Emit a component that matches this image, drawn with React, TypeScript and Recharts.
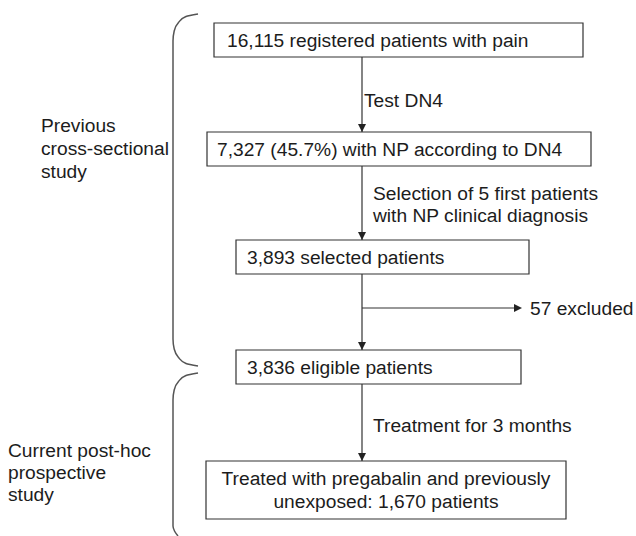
import React from "react";
import {
  ComposedChart,
  XAxis,
  YAxis,
  ReferenceArea,
  ReferenceLine,
  Scatter,
  Line,
} from "recharts";

// ---- content (texts) ----
const boxLines: string[][] = [
  ["16,115 registered patients with pain"],
  ["7,327 (45.7%) with NP according to DN4"],
  ["3,893 selected patients"],
  ["3,836 eligible patients"],
  ["Treated with pregabalin and previously", "unexposed: 1,670 patients"],
];
const stepLabels: string[][] = [
  ["Test DN4"],
  ["Selection of 5 first patients", "with NP clinical diagnosis"],
  ["Treatment for 3 months"],
];
const exclusionLabel = "57 excluded";
const phaseLabels: string[][] = [
  ["Previous", "cross-sectional", "study"],
  ["Current post-hoc", "prospective", "study"],
];

// ---- layout (pixel coordinates on a 636 x 536 canvas) ----
const W = 636;
const H = 536;
const LINE_H = 22.5;
const FLOW_X = 362;
const FONT_SIZE = 19.2;
const boxRects = [
  { x1: 214, x2: 583, y1: 23, y2: 57, align: "start", pad: 13 },
  { x1: 207, x2: 591, y1: 132, y2: 166, align: "start", pad: 10 },
  { x1: 236, x2: 529, y1: 240, y2: 274, align: "start", pad: 11 },
  { x1: 236, x2: 521, y1: 350, y2: 384, align: "start", pad: 11 },
  { x1: 206, x2: 566, y1: 461, y2: 519, align: "middle", pad: 0 },
];
const stepPos = [
  { x: 364, cy: 100 },
  { x: 373, cy: 204.5 },
  { x: 373, cy: 425 },
];
const branchY = 308;
const branchTipX = 522;
const exclusionPos = { x: 530, cy: 308 };
const phasePos = [
  { x: 41, cy: 148, gap: 23 },
  { x: 8, cy: 472, gap: 22 },
];
const braces = [
  [
    { x: 198, y: 14 },
    { x: 186, y: 16.5 },
    { x: 178.5, y: 22.5 },
    { x: 174.2, y: 31 },
    { x: 173, y: 41 },
    { x: 173, y: 339 },
    { x: 174.2, y: 349 },
    { x: 178.5, y: 357.5 },
    { x: 186, y: 363.5 },
    { x: 198, y: 366 },
  ],
  [
    { x: 198, y: 373 },
    { x: 186, y: 375.5 },
    { x: 178.5, y: 381.5 },
    { x: 174.2, y: 390 },
    { x: 173, y: 400 },
    { x: 173, y: 526 },
    { x: 174.5, y: 531 },
    { x: 178, y: 536 },
  ],
];

// ---- derived series ----
type TextItem = { x: number; y: number; text: string; anchor: string };
const textItems: TextItem[] = [];
boxLines.forEach((lines, i) => {
  const r = boxRects[i];
  const cy = (r.y1 + r.y2) / 2;
  const x = r.align === "middle" ? (r.x1 + r.x2) / 2 : r.x1 + r.pad;
  lines.forEach((t, k) =>
    textItems.push({ x, y: cy + (k - (lines.length - 1) / 2) * LINE_H, text: t, anchor: r.align })
  );
});
stepLabels.forEach((lines, i) => {
  const p = stepPos[i];
  lines.forEach((t, k) =>
    textItems.push({ x: p.x, y: p.cy + (k - (lines.length - 1) / 2) * LINE_H, text: t, anchor: "start" })
  );
});
textItems.push({ x: exclusionPos.x, y: exclusionPos.cy, text: exclusionLabel, anchor: "start" });
phaseLabels.forEach((lines, i) => {
  const p = phasePos[i];
  lines.forEach((t, k) =>
    textItems.push({ x: p.x, y: p.cy + (k - (lines.length - 1) / 2) * p.gap, text: t, anchor: "start" })
  );
});

const arrowSegments: { x: number; y: number }[][] = [];
for (let i = 0; i < boxRects.length - 1; i++) {
  arrowSegments.push([
    { x: FLOW_X, y: boxRects[i].y2 },
    { x: FLOW_X, y: boxRects[i + 1].y1 },
  ]);
}
const arrowHeads = [
  ...boxRects.slice(1).map((r) => ({ x: FLOW_X, y: r.y1, dir: "down" })),
  { x: branchTipX, y: branchY, dir: "right" },
];

const FONT = "'Liberation Sans', Arial, Helvetica, sans-serif";
const TEXT_COLOR = "#1c1c1c";
const LINE_COLOR = "#333";

const TextShape = (props: any) => {
  const { cx, cy, payload } = props;
  return (
    <text
      x={cx}
      y={cy}
      textAnchor={payload.anchor}
      dominantBaseline="central"
      fontFamily={FONT}
      fontSize={FONT_SIZE}
      fill={TEXT_COLOR}
    >
      {payload.text}
    </text>
  );
};

const HeadShape = (props: any) => {
  const { cx, cy, payload } = props;
  const pts =
    payload.dir === "down"
      ? `${cx},${cy} ${cx - 4},${cy - 8} ${cx + 4},${cy - 8}`
      : `${cx},${cy} ${cx - 8},${cy - 4} ${cx - 8},${cy + 4}`;
  return <polygon points={pts} fill="#222" />;
};

export default function App() {
  return (
    <div style={{ position: "absolute", left: 0, top: 0, background: "#fff" }}>
      <ComposedChart width={W} height={H} margin={{ top: 0, right: 0, bottom: 0, left: 0 }}>
        <XAxis type="number" dataKey="x" domain={[0, W]} allowDataOverflow hide />
        <YAxis type="number" dataKey="y" domain={[0, H]} allowDataOverflow reversed hide />
        {braces.map((pts, i) => (
          <Line
            key={`brace-${i}`}
            data={pts}
            dataKey="y"
            type="monotoneY"
            stroke="#555"
            strokeWidth={1.5}
            dot={false}
            activeDot={false}
            isAnimationActive={false}
          />
        ))}
        {arrowSegments.map((seg, i) => (
          <ReferenceLine
            key={`arrow-${i}`}
            segment={seg}
            stroke={LINE_COLOR}
            strokeWidth={1.2}
            ifOverflow="visible"
          />
        ))}
        <ReferenceLine
          segment={[
            { x: FLOW_X, y: branchY },
            { x: branchTipX - 4, y: branchY },
          ]}
          stroke={LINE_COLOR}
          strokeWidth={1.2}
          ifOverflow="visible"
        />
        {boxRects.map((r, i) => (
          <ReferenceArea
            key={`box-${i}`}
            x1={r.x1}
            x2={r.x2}
            y1={r.y1}
            y2={r.y2}
            fill="#fff"
            fillOpacity={1}
            stroke={LINE_COLOR}
            strokeWidth={1.2}
            ifOverflow="visible"
          />
        ))}
        <Scatter data={arrowHeads} dataKey="y" shape={HeadShape} isAnimationActive={false} />
        <Scatter data={textItems} dataKey="y" shape={TextShape} isAnimationActive={false} />
      </ComposedChart>
    </div>
  );
}
